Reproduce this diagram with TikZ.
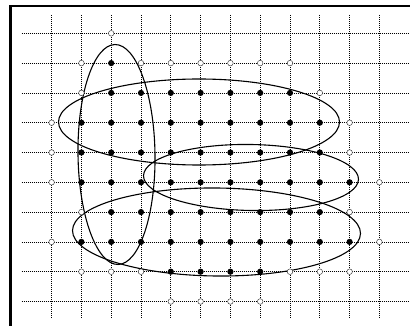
\documentclass[tikz,border=0pt]{standalone}
\tikzset{
  gridline/.style={line width=0.75pt, dash pattern=on 0.9pt off 1.1pt},
  fulldot/.style={circle, fill=black, draw=none, inner sep=0pt, minimum size=6.2pt},
  emptydot/.style={circle, draw=black!80, line width=0.45pt, fill=white, inner sep=0pt, minimum size=5.6pt},
  loop/.style={line width=1.1pt},
  frameline/.style={line width=2.8pt}
}
\begin{document}
\begin{tikzpicture}[x=1pt,y=-1pt]
\useasboundingbox (0,0) rectangle (410,326);
% frame
\draw[frameline] (10.5,326) -- (10.5,4.6);
\draw[line width=2.4pt] (9.1,6) -- (410,6);
% grid
\foreach \k in {0,...,11}
  \draw[gridline] ({51.6+29.8*\k},15) -- ({51.6+29.8*\k},318);
\foreach \j in {0,...,9}
  \draw[gridline] (21.7,{33.3+29.8*\j}) -- (408,{33.3+29.8*\j});
% sets
\draw[loop] (116.5,154.5) ellipse [x radius=38.5, y radius=110, rotate=0.8];
\draw[loop] (199,122) ellipse [x radius=140.5, y radius=43];
\draw[loop] (251,177.5) ellipse [x radius=107.5, y radius=33, rotate=-1];
\draw[loop] (216.5,232) ellipse [x radius=144, y radius=44, rotate=-0.6];
% filled points
\foreach \j/\cols in {1/{2}, 2/{2,...,8}, 3/{1,...,9}, 4/{1,...,9}, 5/{1,...,10}, 6/{2,...,9}, 7/{1,...,10}, 8/{4,...,7}}
  \foreach \k in \cols
    \node[fulldot] (f-\k-\j) at ({51.6+29.8*\k},{33.3+29.8*\j}) {};
% empty points
\foreach \j/\cols in {0/{2}, 1/{1,3,4,5,6,7,8}, 2/{1,9}, 3/{0,10}, 4/{0,10}, 5/{0,11}, 6/{1,10}, 7/{0,11}, 8/{1,2,3,8,9,10}, 9/{4,5,6,7}}
  \foreach \k in \cols
    \node[emptydot] (o-\k-\j) at ({51.6+29.8*\k},{33.3+29.8*\j}) {};
\end{tikzpicture}
\end{document}
